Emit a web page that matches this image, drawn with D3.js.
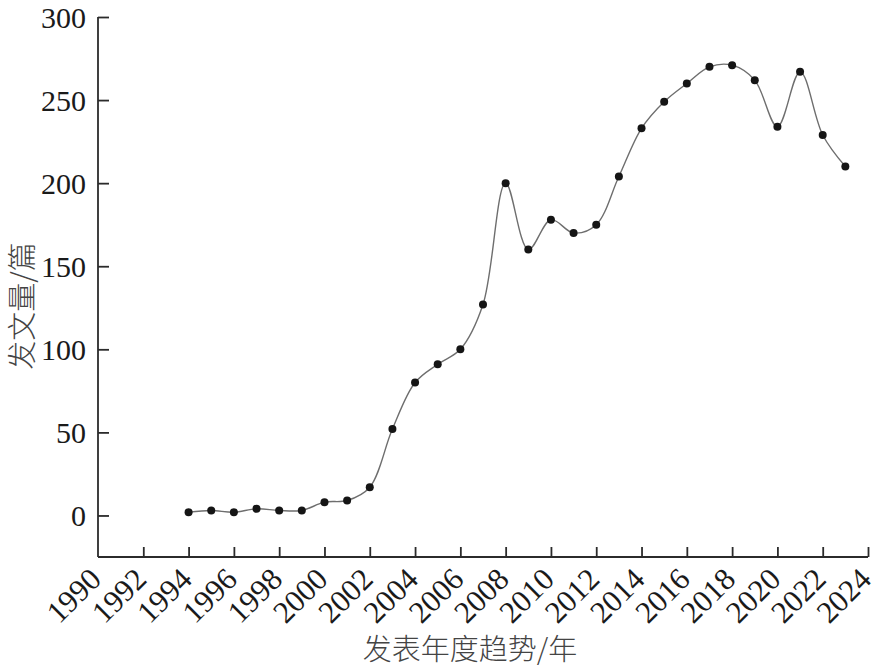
<!DOCTYPE html>
<html>
<head>
<meta charset="utf-8">
<script src="https://cdn.jsdelivr.net/npm/d3@7/dist/d3.min.js"></script>
<style>
  html, body { margin: 0; padding: 0; background: #fff; }
  svg { display: block; }
</style>
</head>
<body>
<svg id="chart" width="887" height="671"></svg>
<script>
// ---- data ----
const years = [1994,1995,1996,1997,1998,1999,2000,2001,2002,2003,2004,2005,2006,2007,2008,
               2009,2010,2011,2012,2013,2014,2015,2016,2017,2018,2019,2020,2021,2022,2023];
const counts = [2,3,2,4,3,3,8,9,17,52,80,91,100,127,200,
                160,178,170,175,204,233,249,260,270,271,262,234,267,229,210];
const xTicks = [1990,1992,1994,1996,1998,2000,2002,2004,2006,2008,2010,2012,2014,2016,2018,2020,2022,2024];
const yTicks = [0,50,100,150,200,250,300];
const xTitle = "发表年度趋势/年";
const yTitle = "发文量/篇";

// ---- layout ----
const svg = d3.select("#chart");
const plotL = 98, plotR = 868, plotT = 17, plotB = 557;
const x = d3.scaleLinear().domain([1990, 2024]).range([plotL, plotR]);
const y = d3.scaleLinear().domain([-25, 300]).range([plotB, plotT]);

const axisColor = "#2b2b2b";
const tickFont = "'Liberation Serif', 'DejaVu Serif', serif";

// y axis
const yAxis = svg.append("g").attr("transform", `translate(${plotL},0)`)
  .call(d3.axisRight(y).tickValues(yTicks).tickSize(11).tickFormat(d3.format("d")));
yAxis.select(".domain").remove();
yAxis.selectAll(".tick line").attr("stroke", axisColor).attr("stroke-width", 1.8);
yAxis.selectAll(".tick text")
  .attr("x", -12).attr("text-anchor", "end").attr("dy", "0.34em")
  .style("font-family", tickFont).style("font-size", "30px").attr("fill", "#1a1a1a");
svg.append("line").attr("x1", plotL).attr("x2", plotL).attr("y1", y(300)).attr("y2", plotB)
  .attr("stroke", axisColor).attr("stroke-width", 1.8);

// x axis
const xAxis = svg.append("g").attr("transform", `translate(0,${plotB})`)
  .call(d3.axisTop(x).tickValues(xTicks.filter(d => d !== 1990)).tickSize(10).tickFormat(""));
xAxis.select(".domain").remove();
xAxis.selectAll(".tick line").attr("stroke", axisColor).attr("stroke-width", 1.8);
svg.append("line").attr("x1", plotL).attr("x2", plotR).attr("y1", plotB).attr("y2", plotB)
  .attr("stroke", axisColor).attr("stroke-width", 1.8);

svg.append("g").selectAll("text").data(xTicks).join("text")
  .attr("transform", d => `translate(${x(d) + 5},${plotB + 24}) rotate(-45)`)
  .attr("text-anchor", "end")
  .style("font-family", tickFont).style("font-size", "31px").attr("fill", "#1a1a1a")
  .text(d => d);

// line
const data = years.map((yr, i) => ({ yr, v: counts[i] }));
svg.append("path").datum(data)
  .attr("fill", "none").attr("stroke", "#6e6e6e").attr("stroke-width", 1.4)
  .attr("d", d3.line().x(d => x(d.yr)).y(d => y(d.v)).curve(d3.curveCatmullRom.alpha(0.5)));

svg.append("g").selectAll("circle").data(data).join("circle")
  .attr("cx", d => x(d.yr)).attr("cy", d => y(d.v)).attr("r", 4)
  .attr("fill", "#151515");

// titles
const cjk = "'Noto Sans CJK SC', 'Noto Sans', sans-serif";
svg.append("text").attr("x", 470).attr("y", 647).attr("text-anchor", "middle")
  .attr("dominant-baseline", "central")
  .style("font-family", cjk).style("font-size", "29px").style("font-weight", 300).attr("fill", "#444")
  .text(xTitle);
svg.append("text").attr("transform", "translate(20,306) rotate(-90)").attr("text-anchor", "middle")
  .attr("dominant-baseline", "central")
  .style("font-family", cjk).style("font-size", "29px").style("font-weight", 300).attr("fill", "#444")
  .text(yTitle);
</script>
</body>
</html>
